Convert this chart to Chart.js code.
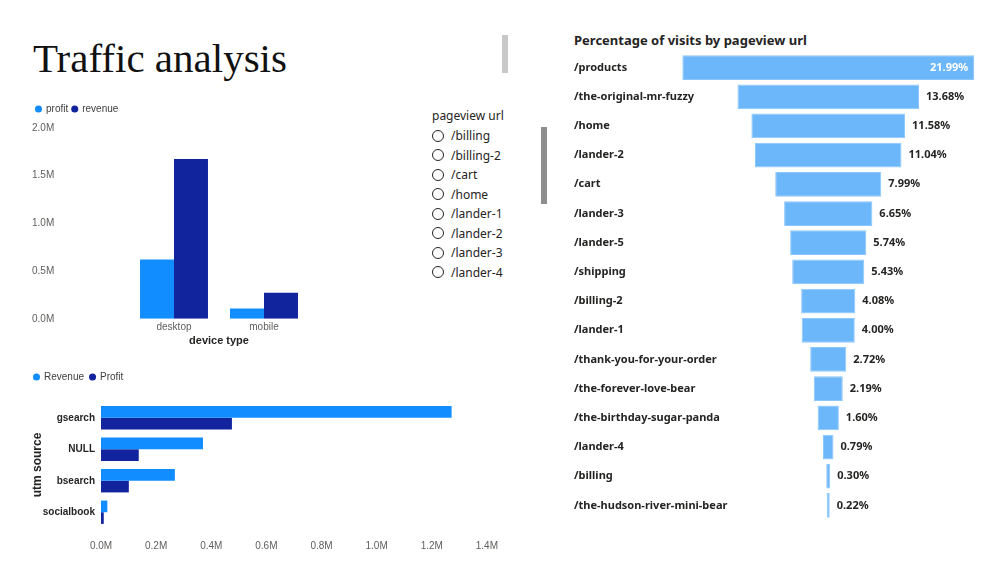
<!DOCTYPE html>
<html lang="en">
<head>
<meta charset="UTF-8">
<meta name="viewport" content="width=device-width, initial-scale=1.0">
<title>Traffic analysis</title>
<script src="https://cdn.jsdelivr.net/npm/chart.js"></script>
<style>
    html, body {
        margin: 0;
        padding: 0;
        background: #ffffff;
    }

    body {
        width: 1000px;
        height: 563px;
        position: relative;
        overflow: hidden;
        font-family: 'Noto Sans', sans-serif;
        color: #252423;
    }

    .box {
        position: absolute;
    }

    .page-title {
        position: absolute;
        left: 33px;
        top: 38px;
        font-family: 'Liberation Serif', serif;
        font-size: 41px;
        line-height: 41px;
        color: #111111;
        white-space: nowrap;
    }

    .scroll {
        position: absolute;
        width: 6px;
    }

    .funnel-title {
        position: absolute;
        left: 574px;
        top: 31px;
        font-size: 13px;
        font-weight: bold;
        white-space: nowrap;
    }

    .slicer {
        position: absolute;
        left: 432px;
        top: 106px;
        font-size: 12px;
    }

    .slicer .head {
        height: 20px;
        line-height: 20px;
    }

    .slicer .item {
        height: 19.5px;
        line-height: 19.5px;
        display: flex;
        align-items: center;
    }

    .slicer .dot {
        width: 10px;
        height: 10px;
        border: 1px solid #252423;
        border-radius: 50%;
        margin-right: 7px;
    }
</style>
</head>
<body>

<div class="page-title">Traffic analysis</div>
<div class="scroll" style="left:502px; top:35px; height:38px; background:#c8c8c8;"></div>
<div class="scroll" style="left:541px; top:127px; height:77px; background:#8e8e8e;"></div>

<div class="box" style="left:32px; top:100px; width:280px; height:248px;">
    <canvas id="deviceChart"></canvas>
</div>

<div class="box" style="left:28px; top:366px; width:482px; height:198px;">
    <canvas id="sourceChart"></canvas>
</div>

<div class="slicer" id="slicer">
    <div class="head">pageview url</div>
</div>

<div class="funnel-title">Percentage of visits by pageview url</div>
<div class="box" style="left:574px; top:50px; width:416px; height:475px;">
    <canvas id="funnelChart"></canvas>
</div>

<script>
    // profit / revenue per device type
    const deviceTypes = ['desktop', 'mobile'];
    const deviceProfit = [622000, 107000];
    const deviceRevenue = [1674000, 274000];

    // revenue / profit per utm source
    const sources = ['gsearch', 'NULL', 'bsearch', 'socialbook'];
    const sourceRevenue = [1272000, 370000, 268000, 23000];
    const sourceProfit = [475000, 137000, 101000, 10000];

    // funnel: share of visits per page
    const pageUrls = [
        '/products', '/the-original-mr-fuzzy', '/home', '/lander-2', '/cart',
        '/lander-3', '/lander-5', '/shipping', '/billing-2', '/lander-1',
        '/thank-you-for-your-order', '/the-forever-love-bear', '/the-birthday-sugar-panda',
        '/lander-4', '/billing', '/the-hudson-river-mini-bear'
    ];
    const visitPct = [21.99, 13.68, 11.58, 11.04, 7.99, 6.65, 5.74, 5.43, 4.08, 4.00, 2.72, 2.19, 1.60, 0.79, 0.30, 0.22];

    // slicer entries
    const slicerItems = ['/billing', '/billing-2', '/cart', '/home', '/lander-1', '/lander-2', '/lander-3', '/lander-4'];

    const slicer = document.getElementById('slicer');
    slicerItems.forEach(name => {
        const row = document.createElement('div');
        row.className = 'item';
        row.innerHTML = '<span class="dot"></span><span>' + name + '</span>';
        slicer.appendChild(row);
    });

    const fmtM = v => (v / 1e6).toFixed(1) + 'M';
    const tickGrey = '#605e5c';
    const dark = '#252423';

    // extra space under the legend
    const legendGap = {
        id: 'legendGap',
        afterInit(chart, args, opts) {
            const fit = chart.legend.fit;
            chart.legend.fit = function () {
                fit.call(this);
                this.height += opts.gap || 0;
            };
        }
    };

    const legendLabels = {
        usePointStyle: true,
        pointStyle: 'circle',
        boxWidth: 5,
        boxHeight: 5,
        padding: 4,
        font: { size: 10 },
        color: '#404040'
    };

    // Column chart: device type
    new Chart(document.getElementById('deviceChart'), {
        type: 'bar',
        data: {
            labels: deviceTypes,
            datasets: [
                { label: 'profit', data: deviceProfit, backgroundColor: '#118DFF' },
                { label: 'revenue', data: deviceRevenue, backgroundColor: '#12239E' }
            ]
        },
        options: {
            responsive: true,
            maintainAspectRatio: false,
            animation: false,
            layout: { padding: { top: 0, right: 3, bottom: 0, left: 0 } },
            datasets: { bar: { categoryPercentage: 0.755, barPercentage: 1 } },
            plugins: {
                legend: { align: 'start', labels: legendLabels },
                legendGap: { gap: 4 },
                tooltip: { enabled: false }
            },
            scales: {
                x: {
                    grid: { display: false, drawTicks: false },
                    border: { display: false },
                    ticks: { font: { size: 10 }, color: tickGrey, padding: 2 },
                    title: { display: true, text: 'device type', font: { size: 11, weight: 'bold' }, color: dark, padding: 0 }
                },
                y: {
                    min: 0,
                    max: 2000000,
                    grid: { display: false, drawTicks: false },
                    border: { display: false },
                    afterFit(s) { s.width = 97; },
                    ticks: { stepSize: 500000, crossAlign: 'far', font: { size: 10 }, color: tickGrey, callback: fmtM }
                }
            }
        },
        plugins: [legendGap]
    });

    // Horizontal bar chart: utm source
    new Chart(document.getElementById('sourceChart'), {
        type: 'bar',
        data: {
            labels: sources,
            datasets: [
                { label: 'Revenue', data: sourceRevenue, backgroundColor: '#118DFF' },
                { label: 'Profit', data: sourceProfit, backgroundColor: '#12239E' }
            ]
        },
        options: {
            indexAxis: 'y',
            responsive: true,
            maintainAspectRatio: false,
            animation: false,
            layout: { padding: { top: 0, right: 0, bottom: 0, left: 0 } },
            datasets: { bar: { categoryPercentage: 0.74, barPercentage: 1 } },
            plugins: {
                legend: { align: 'start', labels: Object.assign({}, legendLabels, { padding: 6 }) },
                legendGap: { gap: 10 },
                tooltip: { enabled: false }
            },
            scales: {
                x: {
                    min: 0,
                    max: 1400000,
                    grid: { display: false, drawTicks: false },
                    border: { display: false },
                    ticks: { stepSize: 200000, font: { size: 10 }, color: tickGrey, padding: 12, callback: fmtM }
                },
                y: {
                    grid: { display: false, drawTicks: false },
                    border: { display: false },
                    afterFit(s) { s.width = 73; },
                    ticks: { font: { size: 10, weight: 'bold' }, color: dark, padding: 6 },
                    title: { display: true, text: 'utm source', font: { size: 12, weight: 'bold' }, color: dark, padding: { top: 2, bottom: 0 } }
                }
            }
        },
        plugins: [legendGap]
    });

    // labels for the funnel: page name on the left, percentage after the bar
    const funnelLabels = {
        id: 'funnelLabels',
        afterDatasetsDraw(chart) {
            const ctx = chart.ctx;
            const area = chart.chartArea;
            const meta = chart.getDatasetMeta(0);
            ctx.save();
            ctx.textBaseline = 'middle';
            ctx.font = 'bold 11px "Noto Sans"';
            meta.data.forEach((bar, i) => {
                ctx.fillStyle = dark;
                ctx.textAlign = 'left';
                ctx.fillText(pageUrls[i], area.left, bar.y);
                const txt = visitPct[i].toFixed(2) + '%';
                const w = ctx.measureText(txt).width;
                if (bar.x + 7 + w > area.right) {
                    ctx.fillStyle = '#ffffff';
                    ctx.textAlign = 'right';
                    ctx.fillText(txt, bar.x - 6, bar.y);
                } else {
                    ctx.fillText(txt, bar.x + 7, bar.y);
                }
            });
            ctx.restore();
        }
    };

    // Funnel drawn as floating horizontal bars centred on zero
    new Chart(document.getElementById('funnelChart'), {
        type: 'bar',
        data: {
            labels: pageUrls,
            datasets: [{
                label: 'visits %',
                data: visitPct.map(v => [-v / 2, v / 2]),
                backgroundColor: '#6cb6fa',
                borderColor: '#8cc7fb',
                borderWidth: 1,
                borderSkipped: false
            }]
        },
        options: {
            indexAxis: 'y',
            responsive: true,
            maintainAspectRatio: false,
            animation: false,
            layout: { padding: { top: 3, right: 0, bottom: 5, left: 0 } },
            datasets: { bar: { categoryPercentage: 0.85, barPercentage: 1 } },
            plugins: { legend: { display: false }, tooltip: { enabled: false } },
            scales: {
                x: { display: false, min: -19.16, max: 12.19 },
                y: { display: false }
            }
        },
        plugins: [funnelLabels]
    });
</script>

</body>
</html>
